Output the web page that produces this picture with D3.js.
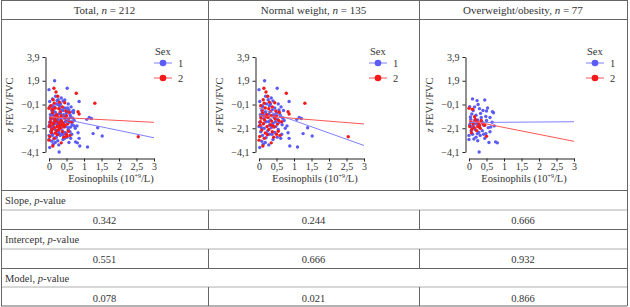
<!DOCTYPE html>
<html lang="en">
<head>
  <meta charset="UTF-8">
  <title>Eosinophils vs z FEV1/FVC</title>
  <style>
    body { margin: 0; background: #fff; }
    svg { font-family: "Liberation Serif", "Times New Roman", "DejaVu Serif", serif; }
    svg text { fill: #333; }
    .axis path, .axis line { stroke: #222; }
    .axis text { font-size: 10px; fill: #333; }
  </style>
</head>
<body>
  <div id="chart"></div>

  <script src="https://d3js.org/d3.v7.min.js"></script>
  <script>
    // panels
    const panelTitles = ["Total", "Normal weight", "Overweight/obesity"];
    const panelN = [212, 135, 77];
    const sexes = ["1", "2"];

    // tick labels
    const xTicks = [0, 0.5, 1, 1.5, 2, 2.5, 3];
    const xTickLabels = ["0", "0,5", "1", "1,5", "2", "2,5", "3"];
    const yTicks = [3.9, 1.9, -0.1, -2.1, -4.1];
    const yTickLabels = ["3,9", "1,9", "\u22120,1", "\u22122,1", "\u22124,1"];

    // points [eosinophils, z FEV1/FVC]
    const normalMen = [
      [0.16,1.9],[0.0,1.15],[0.52,1.27],[0.02,0.15],[0.11,-0.28],[0.26,0.3],[0.35,0.45],[0.40,0.2],
      [0.86,0.15],[0.55,-0.05],[0.63,-0.3],[0.22,-0.05],[0.30,-0.2],[0.45,-0.4],[0.08,-0.6],[0.18,-0.75],
      [0.28,-0.9],[0.38,-0.55],[0.50,-0.8],[0.60,-0.95],[0.70,-0.6],[0.05,-1.1],[0.14,-1.3],[0.24,-1.15],
      [0.33,-1.4],[0.43,-1.2],[0.53,-1.35],[0.62,-1.1],[0.72,-1.45],[0.02,-1.6],[0.12,-1.75],[0.20,-1.55],
      [0.30,-1.85],[0.40,-1.7],[0.48,-1.95],[0.58,-1.6],[0.66,-1.8],[1.15,-1.2],[1.21,-1.28],[1.08,-1.35],
      [1.39,-2.06],[1.26,-2.55],[1.52,-2.75],[0.86,-2.95],[0.83,-2.48],[0.88,-3.6],[1.10,-3.68],[0.02,-3.72],
      [0.12,-3.45],[0.08,-3.2],[0.05,-2.4],[0.15,-2.1],[0.25,-2.3],[0.35,-2.05],[0.45,-2.45],[0.55,-2.2],
      [0.65,-2.6],[0.10,-2.7],[0.20,-2.9],[0.30,-2.6],[0.40,-3.05],[0.52,-2.85],[0.62,-2.95],[0.18,-3.3],
      [0.28,-3.5],[0.75,-2.1],[0.80,-1.9],[0.00,-1.95],[0.04,-0.95],[0.09,-0.2],[0.19,0.6],[0.33,-0.05],
      [0.47,-1.55],[0.57,-0.55],[0.68,-1.25],[0.27,-1.55],[0.37,-2.6],[0.13,-1.0],[0.23,-2.55],[0.42,-0.95],
      [0.07,-2.05]
    ];
    const normalWomen = [
      [0.14,1.27],[0.78,0.85],[1.31,0.0],[2.55,-2.82],[0.35,-3.33],[0.11,-3.6],[0.0,-3.1],[0.83,-0.7],
      [0.86,-0.9],[0.20,0.95],[0.25,0.6],[0.12,0.3],[0.30,0.1],[0.05,-0.2],[0.18,-0.4],[0.38,-0.3],
      [0.45,0.05],[0.10,-0.8],[0.22,-0.95],[0.32,-0.7],[0.48,-0.65],[0.58,-0.75],[0.06,-1.25],[0.16,-1.4],
      [0.26,-1.2],[0.36,-1.5],[0.46,-1.3],[0.56,-1.45],[0.03,-1.85],[0.13,-1.7],[0.23,-1.95],[0.33,-1.8],
      [0.43,-2.0],[0.53,-1.75],[0.08,-2.25],[0.18,-2.5],[0.28,-2.2],[0.38,-2.4],[0.50,-2.6],[0.55,-2.35],
      [0.02,-2.8],[0.15,-2.95],[0.42,-2.85],[0.60,-2.7],[0.65,-1.55],[0.20,-1.1],[0.10,-0.55],[0.28,-0.45],
      [0.50,-1.05],[0.35,-1.05],[0.04,-1.55],[0.24,-2.65],[0.15,0.0],[0.40,-1.9]
    ];
    const overMen = [
      [0.10,0.37],[0.23,0.23],[0.45,0.28],[0.02,-0.28],[0.16,-0.3],[0.30,-0.45],[0.40,-0.6],[0.67,-0.7],
      [0.70,-0.8],[0.08,-0.9],[0.20,-1.0],[0.33,-0.85],[0.48,-1.1],[0.60,-1.2],[0.05,-1.35],[0.15,-1.5],
      [0.25,-1.4],[0.36,-1.55],[0.50,-1.45],[0.66,-1.6],[0.02,-1.8],[0.12,-1.9],[0.22,-1.75],[0.30,-2.0],
      [0.42,-1.85],[0.55,-2.05],[0.72,-1.9],[0.06,-2.3],[0.18,-2.2],[0.28,-2.45],[0.38,-2.3],[0.48,-2.55],
      [0.60,-2.4],[0.0,-2.7],[0.10,-2.6],[0.20,-2.85],[0.32,-2.7],[0.45,-2.95],[0.29,-4.1],[0.57,-3.3],
      [0.76,-3.25],[0.81,-3.33],[0.0,-3.05],[0.14,-3.0],[0.25,-3.15],[0.08,-2.0],[0.35,-1.2],[0.53,-0.4],
      [0.26,-0.1],[0.12,-0.6],[0.42,-2.6],[0.62,-2.0],[0.04,-1.15],[0.18,-1.65],[0.40,-1.65],[0.50,-0.65],
      [0.24,-2.55]
    ];
    const overWomen = [
      [0.0,-0.42],[0.10,-0.5],[0.16,-1.13],[0.50,-2.77],[0.07,-2.48],[0.05,-1.6],[0.12,-1.75],[0.20,-1.5],
      [0.28,-1.65],[0.35,-1.45],[0.02,-1.95],[0.15,-2.05],[0.25,-1.95],[0.32,-2.1],[0.40,-1.7],[0.08,-2.2],
      [0.22,-2.3],[0.45,-1.85],[0.18,-1.35],[0.30,-1.85]
    ];

    // fitted lines per panel: [sex1, sex2] as [value at x=0, value at x=3]
    const fitLines = [
      [[-1.07, -2.9], [-1.14, -1.6]],
      [[-0.4, -3.55], [-1.03, -1.74]],
      [[-1.62, -1.55], [-1.45, -3.2]]
    ];

    // table rows
    const rowLabels = ["Slope", "Intercept", "Model"];
    const slopeP = ["0.342", "0.244", "0.666"];
    const interceptP = ["0.551", "0.666", "0.932"];
    const modelP = ["0.078", "0.021", "0.866"];

    const panelPoints = [
      [normalMen.concat(overMen), normalWomen.concat(overWomen)],
      [normalMen, normalWomen],
      [overMen, overWomen]
    ];

    const width = 630;
    const height = 307;
    const colX = [1, 208, 419, 627];
    const lineColor = "#666";
    const pointColor = ["#5b5bf5", "#f51a1a"];
    const fitColor = ["#7f7fff", "#ff5555"];
    const legendX = [154, 369, 586];

    const svg = d3.select("#chart")
      .append("svg")
      .attr("width", width)
      .attr("height", height);

    // table grid
    const hLines = [0.5, 19.5, 190.5, 229.5, 268.5, 306];
    hLines.forEach(y => {
      svg.append("line").attr("x1", colX[0]).attr("x2", colX[3]).attr("y1", y).attr("y2", y)
        .attr("stroke", lineColor).attr("stroke-width", 1);
    });
    [210, 249, 287].forEach(y => {
      svg.append("line").attr("x1", colX[0]).attr("x2", colX[3]).attr("y1", y).attr("y2", y)
        .attr("stroke", "#999").attr("stroke-width", 0.8);
    });
    // outer verticals
    [colX[0] + 0.5, colX[3] + 0.5].forEach(x => {
      svg.append("line").attr("x1", x).attr("x2", x).attr("y1", 0).attr("y2", 306)
        .attr("stroke", lineColor);
    });
    // inner verticals: header + chart row, and value rows
    const vSegs = [[0, 190.5], [210, 229.5], [249, 268.5], [287, 306]];
    [colX[1] + 0.5, colX[2] + 0.5].forEach(x => {
      vSegs.forEach(s => {
        svg.append("line").attr("x1", x).attr("x2", x).attr("y1", s[0]).attr("y2", s[1])
          .attr("stroke", lineColor);
      });
    });

    // header titles
    panelTitles.forEach((t, i) => {
      const txt = svg.append("text")
        .attr("x", (colX[i] + colX[i + 1]) / 2)
        .attr("y", 14)
        .attr("text-anchor", "middle")
        .attr("font-size", 11);
      txt.append("tspan").text(t + ", ");
      txt.append("tspan").attr("font-style", "italic").text("n");
      txt.append("tspan").text(" = " + panelN[i]);
    });

    // p-value rows
    const rowValues = [slopeP, interceptP, modelP];
    const labelY = [204, 243, 282];
    rowLabels.forEach((lab, r) => {
      const txt = svg.append("text").attr("x", 5).attr("y", labelY[r]).attr("font-size", 10.5);
      txt.append("tspan").text(lab + ", ");
      txt.append("tspan").attr("font-style", "italic").text("p");
      txt.append("tspan").text("-value");
      rowValues[r].forEach((v, i) => {
        svg.append("text")
          .attr("x", (colX[i] + colX[i + 1]) / 2)
          .attr("y", labelY[r] + 19.5)
          .attr("text-anchor", "middle")
          .attr("font-size", 10.5)
          .text(v);
      });
    });

    // scatter panels
    const labelCenter = [111, 315, 524];
    panelTitles.forEach((t, i) => {
      const ox = [0, 210, 420][i];
      const g = svg.append("g").attr("transform", `translate(${ox},0)`);

      const x = d3.scaleLinear().domain([0, 3]).range([49, 154]);
      const y = d3.scaleLinear().domain([-4.1, 3.9]).range([152, 57]);

      g.append("g").attr("class", "axis")
        .attr("transform", "translate(45.5,0)")
        .call(d3.axisLeft(y).tickValues(yTicks).tickSize(3).tickSizeOuter(0).tickPadding(3)
          .tickFormat((d, k) => yTickLabels[k]))
        .attr("font-family", null);
      g.append("g").attr("class", "axis")
        .attr("transform", "translate(0,158.5)")
        .call(d3.axisBottom(x).tickValues(xTicks).tickSize(3).tickSizeOuter(0).tickPadding(1)
          .tickFormat((d, k) => xTickLabels[k]))
        .attr("font-family", null);

      // points
      panelPoints[i].forEach((pts, s) => {
        g.append("g").selectAll("circle")
          .data(pts)
          .enter().append("circle")
          .attr("cx", d => x(d[0]))
          .attr("cy", d => y(d[1]))
          .attr("r", 1.7)
          .attr("fill", pointColor[s]);
      });

      // fitted lines
      fitLines[i].forEach((f, s) => {
        g.append("line")
          .attr("x1", x(0)).attr("y1", y(f[0]))
          .attr("x2", x(3)).attr("y2", y(f[1]))
          .attr("stroke", fitColor[s]).attr("stroke-width", 1);
      });

      // axis titles
      const yl = g.append("text")
        .attr("transform", "translate(13,105) rotate(-90)")
        .attr("text-anchor", "middle")
        .attr("font-size", 10.5);
      yl.append("tspan").attr("font-style", "italic").text("z");
      yl.append("tspan").text(" FEV1/FVC");

      const xl = svg.append("text")
        .attr("x", labelCenter[i])
        .attr("y", 182)
        .attr("text-anchor", "middle")
        .attr("font-size", 10.5);
      xl.append("tspan").text("Eosinophils (10");
      xl.append("tspan").attr("font-size", 6).attr("dy", -4).text("+9");
      xl.append("tspan").attr("dy", 4).text("/L)");

      // legend
      const lx = legendX[i];
      svg.append("text").attr("x", lx + 1).attr("y", 55).attr("font-size", 10.5).text("Sex");
      sexes.forEach((s, k) => {
        const ly = 63 + k * 15;
        svg.append("line").attr("x1", lx).attr("x2", lx + 18).attr("y1", ly).attr("y2", ly)
          .attr("stroke", fitColor[k]).attr("stroke-width", 1);
        svg.append("circle").attr("cx", lx + 9).attr("cy", ly).attr("r", 3.3).attr("fill", pointColor[k]);
        svg.append("text").attr("x", lx + 24).attr("y", ly + 4).attr("font-size", 10.5).text(s);
      });
    });
  </script>
</body>
</html>
